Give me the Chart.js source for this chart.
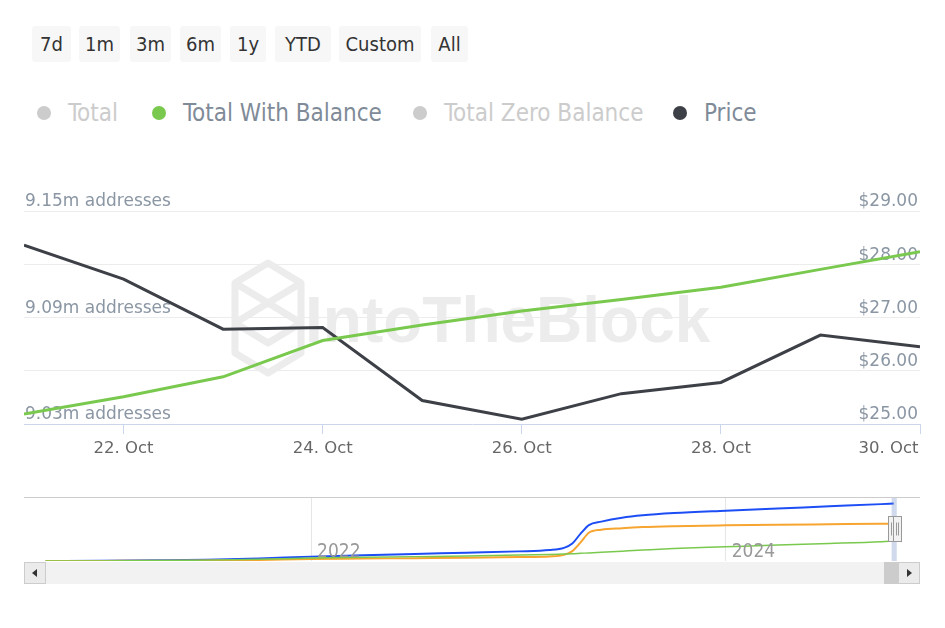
<!DOCTYPE html>
<html>
<head>
<meta charset="utf-8">
<script src="https://cdn.jsdelivr.net/npm/chart.js@4.4.0/dist/chart.umd.min.js"></script>
<style>
body{margin:0;background:#fff;width:945px;height:628px;overflow:hidden;position:relative;font-family:"DejaVu Sans Condensed","Liberation Sans Narrow",sans-serif}
.btn{position:absolute;top:26px;height:36px;line-height:36px;background:#f7f7f7;border-radius:3px;color:#333;font-size:20px;text-align:center}
.item{position:absolute;top:97px;height:32px;line-height:32px;font-size:24px;white-space:nowrap}
.dot{position:absolute;left:0;top:9px;width:14px;height:14px;border-radius:50%}
.item span{position:absolute;left:31px;top:0}
#main{position:absolute;left:0;top:150px}
#nav{position:absolute;left:0;top:490px}
.track{position:absolute;left:24px;top:562px;width:896px;height:22px;background:#f2f2f2}
.sbtn{position:absolute;top:562px;width:20px;height:20px;background:#ebebeb;border:1px solid #cccccc}
.thumb{position:absolute;left:884px;top:562px;width:16px;height:22px;background:#cccccc}
.arr{position:absolute;top:6px;width:0;height:0;border-top:4px solid transparent;border-bottom:4px solid transparent}
</style>
</head>
<body>
<div class="btn" style="left:32px;width:39px">7d</div>
<div class="btn" style="left:79px;width:41px">1m</div>
<div class="btn" style="left:130px;width:41px">3m</div>
<div class="btn" style="left:180px;width:41px">6m</div>
<div class="btn" style="left:230px;width:36px">1y</div>
<div class="btn" style="left:275px;width:56px">YTD</div>
<div class="btn" style="left:339px;width:82px">Custom</div>
<div class="btn" style="left:431px;width:37px">All</div>

<div class="item" style="left:37px;color:#cccccc"><div class="dot" style="background:#cccccc"></div><span>Total</span></div>
<div class="item" style="left:152px;color:#7f8b98"><div class="dot" style="background:#7ac94f"></div><span>Total With Balance</span></div>
<div class="item" style="left:413px;color:#cccccc"><div class="dot" style="background:#cccccc"></div><span>Total Zero Balance</span></div>
<div class="item" style="left:673px;color:#7f8b98"><div class="dot" style="background:#3d4147"></div><span>Price</span></div>

<canvas id="main" width="945" height="320"></canvas>
<canvas id="nav" width="945" height="72"></canvas>

<div class="track"></div>
<div class="thumb"></div>
<div class="sbtn" style="left:24px"><div class="arr" style="left:7px;border-right:5px solid #333"></div></div>
<div class="sbtn" style="left:898px"><div class="arr" style="left:8px;border-left:5px solid #333"></div></div>

<script>
// main chart: 21-30 Oct
const days = [21, 22, 23, 24, 25, 26, 27, 28, 29, 30];
const withBalance = [9.0356, 9.0454, 9.0566, 9.0770, 9.0858, 9.0937, 9.1001, 9.1070, 9.1171, 9.1270]; // millions
const price = [28.36, 27.72, 26.78, 26.81, 25.44, 25.09, 25.57, 25.78, 26.67, 26.45];
const dayTicks = [22, 24, 26, 28, 30];
const addrGrid = [9.03, 9.06, 9.09, 9.12, 9.15];
const addrLabels = [9.03, 9.09, 9.15];
const priceTicks = [25, 26, 27, 28, 29];

// navigator: full history (decimal years), millions of addresses
const navYears = [2020.72, 2021.0, 2021.25, 2021.5, 2021.75, 2022.0, 2022.25, 2022.5, 2022.75, 2023.0, 2023.15, 2023.22, 2023.26, 2023.30, 2023.34, 2023.40, 2023.5, 2023.6, 2023.75, 2024.0, 2024.25, 2024.5, 2024.75, 2024.81];
const navTotal = [0, 0.1, 0.3, 0.6, 1.2, 2.0, 2.6, 3.2, 3.8, 4.4, 5.0, 6.0, 8.0, 12.5, 16.4, 18.0, 19.8, 20.9, 21.9, 23.0, 24.0, 25.0, 26.0, 26.3];
const navZero = [0, 0.05, 0.1, 0.2, 0.5, 0.9, 1.1, 1.3, 1.5, 1.8, 2.1, 2.8, 4.5, 8.5, 12.9, 14.3, 15.0, 15.5, 15.9, 16.3, 16.6, 16.8, 17.0, 17.0];
const navWith = [0, 0.05, 0.2, 0.4, 0.8, 1.4, 1.7, 2.0, 2.3, 2.7, 3.0, 3.2, 3.3, 3.5, 3.7, 4.0, 4.5, 5.0, 5.7, 6.5, 7.3, 8.0, 8.8, 9.1];
const navYearTicks = [2022, 2024];
const selection = [2024.80, 2024.825];

const yFont = {family: 'DejaVu Sans', size: 17};
const xFont = {family: 'DejaVu Sans', size: 16.5};

const watermark = {
  id: 'watermark',
  beforeDatasetsDraw(chart) {
    const {ctx, chartArea: a} = chart;
    const cx = a.left + 244, cy = a.top + 107;
    ctx.save();
    ctx.strokeStyle = '#ececec';
    ctx.lineWidth = 7;
    ctx.lineJoin = 'round';
    ctx.beginPath();
    ctx.moveTo(cx, cy - 55); ctx.lineTo(cx + 33, cy - 35); ctx.lineTo(cx + 33, cy + 35);
    ctx.lineTo(cx, cy + 55); ctx.lineTo(cx - 33, cy + 35); ctx.lineTo(cx - 33, cy - 35); ctx.closePath();
    ctx.moveTo(cx - 33, cy - 35); ctx.lineTo(cx + 33, cy + 5);
    ctx.moveTo(cx + 33, cy - 35); ctx.lineTo(cx - 33, cy + 5);
    ctx.moveTo(cx - 33, cy + 5); ctx.lineTo(cx, cy + 25); ctx.lineTo(cx + 33, cy + 5);
    ctx.stroke();
    ctx.fillStyle = '#ececec';
    ctx.font = 'bold 64px "Liberation Sans", sans-serif';
    ctx.textBaseline = 'alphabetic';
    ctx.fillText('IntoTheBlock', a.left + 281, a.top + 131);
    ctx.restore();
  }
};

new Chart(document.getElementById('main'), {
  type: 'line',
  data: {
    datasets: [
      {label: 'Total With Balance', data: days.map((d, i) => ({x: d, y: withBalance[i]})),
       borderColor: '#7ac94f', borderWidth: 3, pointRadius: 0, yAxisID: 'y'},
      {label: 'Price', data: days.map((d, i) => ({x: d, y: price[i]})),
       borderColor: '#3d4147', borderWidth: 3, pointRadius: 0, yAxisID: 'y1'}
    ]
  },
  options: {
    responsive: false,
    animation: false,
    layout: {padding: {top: 61, left: 24, right: 25, bottom: 0}},
    plugins: {legend: {display: false}, tooltip: {enabled: false}},
    scales: {
      x: {
        type: 'linear', min: 21, max: 30,
        afterBuildTicks: s => { s.ticks = dayTicks.map(v => ({value: v})); },
        afterFit: s => { s.height = 46; s.paddingLeft = 0; s.paddingRight = 0; },
        grid: {drawOnChartArea: false, color: '#ccd6eb', tickLength: 10},
        border: {color: '#ccd6eb'},
        ticks: {color: '#666666', font: xFont, padding: 5, maxRotation: 0, autoSkip: false,
          callback: v => v === 30 ? v + '. Oct' + '\u00a0'.repeat(12) : v + '. Oct'}
      },
      y: {
        position: 'left', min: 9.03, max: 9.15,
        afterBuildTicks: s => { s.ticks = addrGrid.map(v => ({value: v})); },
        afterFit: s => { s.width = 0; },
        grid: {drawTicks: false, color: c => c.tick && c.tick.value < 9.031 ? 'rgba(0,0,0,0)' : '#ececec'},
        border: {display: false},
        ticks: {mirror: true, padding: 1, labelOffset: -9, color: '#8a96a3', font: yFont,
          callback: v => addrLabels.some(l => Math.abs(l - v) < 1e-6) ? v.toFixed(2) + 'm addresses' : ''}
      },
      y1: {
        position: 'right', min: 25, max: 29,
        afterBuildTicks: s => { s.ticks = priceTicks.map(v => ({value: v})); },
        afterFit: s => { s.width = 0; },
        grid: {drawOnChartArea: false, drawTicks: false},
        border: {display: false},
        ticks: {mirror: true, padding: -2, labelOffset: -9, color: '#8a96a3', font: yFont,
          callback: v => '$' + v.toFixed(2)}
      }
    }
  },
  plugins: [watermark]
});

const navDecor = {
  id: 'navDecor',
  afterDatasetsDraw(chart) {
    const {ctx, chartArea: a, scales: {x}} = chart;
    ctx.save();
    // year labels sit inside the plot, just right of their grid line
    ctx.fillStyle = '#999999';
    ctx.font = '19px "DejaVu Sans Condensed", sans-serif';
    ctx.textBaseline = 'alphabetic';
    navYearTicks.forEach(v => ctx.fillText(String(v), x.getPixelForValue(v) + 6, a.bottom - 4.5));
    ctx.strokeStyle = '#cccccc';
    ctx.lineWidth = 1;
    ctx.beginPath();
    ctx.moveTo(a.left, a.top - 0.5); ctx.lineTo(a.right, a.top - 0.5);
    ctx.stroke();
    const x0 = x.getPixelForValue(selection[0]), x1 = x.getPixelForValue(selection[1]);
    ctx.fillStyle = 'rgba(102,133,194,0.3)';
    ctx.fillRect(x0, a.top, x1 - x0, a.bottom - a.top);
    [x0, x1].forEach(px => {
      const hx = Math.round(px - 4) + 0.5, hy = a.top + 18.5;
      ctx.fillStyle = '#f2f2f2';
      ctx.strokeStyle = '#999999';
      ctx.fillRect(hx, hy, 8, 25);
      ctx.strokeRect(hx, hy, 8, 25);
      ctx.beginPath();
      ctx.moveTo(hx + 3, hy + 6); ctx.lineTo(hx + 3, hy + 19);
      ctx.moveTo(hx + 5, hy + 6); ctx.lineTo(hx + 5, hy + 19);
      ctx.stroke();
    });
    ctx.restore();
  }
};

new Chart(document.getElementById('nav'), {
  type: 'line',
  data: {
    datasets: [
      {data: navYears.map((x, i) => ({x, y: navWith[i]})), borderColor: '#7ac94f', borderWidth: 1.5},
      {data: navYears.map((x, i) => ({x, y: navZero[i]})), borderColor: '#f7a531', borderWidth: 2},
      {data: navYears.map((x, i) => ({x, y: navTotal[i]})), borderColor: '#1d4ef5', borderWidth: 2}
    ]
  },
  options: {
    responsive: false,
    animation: false,
    layout: {padding: {top: 8, left: 24, right: 25, bottom: 1}},
    elements: {point: {radius: 0}, line: {cubicInterpolationMode: 'monotone'}},
    plugins: {legend: {display: false}, tooltip: {enabled: false}},
    scales: {
      x: {
        type: 'linear', min: 2020.6155, max: 2024.937,
        afterBuildTicks: s => { s.ticks = navYearTicks.map(v => ({value: v})); },
        afterFit: s => { s.height = 0; s.paddingLeft = 0; s.paddingRight = 0; },
        grid: {color: '#e6e6e6', drawTicks: false},
        border: {display: false},
        ticks: {display: false}
      },
      y: {display: false, min: 0, max: 28.8}
    }
  },
  plugins: [navDecor]
});
</script>
</body>
</html>
